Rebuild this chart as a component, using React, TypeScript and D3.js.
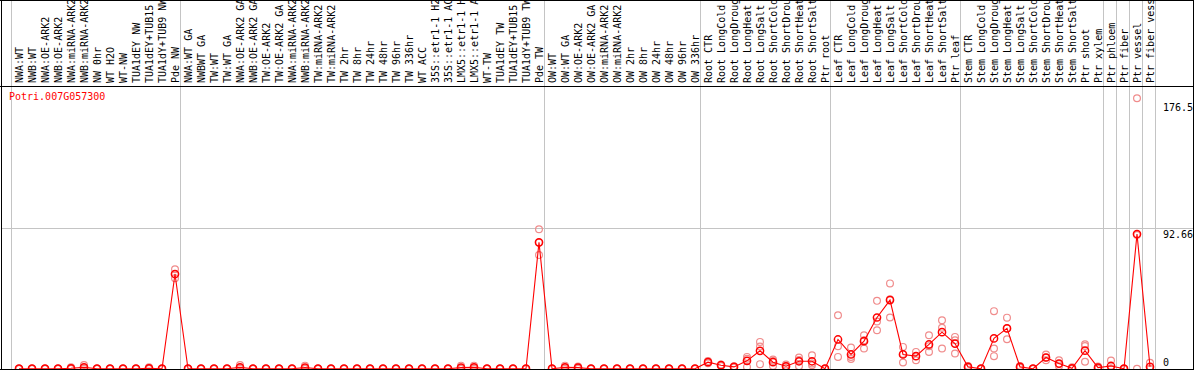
import React from 'react';
import * as d3 from 'd3';

const title = 'Potri.007G057300';

const categories = [
  'NWA:WT', 'NWB:WT', 'NWA:OE-ARK2', 'NWB:OE-ARK2', 'NWA:miRNA-ARK2', 'NWB:miRNA-ARK2',
  'NW 0hr', 'WT H2O', 'WT-NW', 'TUA1dEY NW', 'TUA1dEY+TUB15', 'TUA1dY+TUB9 NW', 'Pde NW',
  'NWA:WT GA', 'NWBWT GA', 'TW:WT', 'TW:WT GA', 'NWA:OE-ARK2 GA', 'NWB:OE-ARK2 GA',
  'TW:OE-ARK2', 'TW:OE-ARK2 GA', 'NWA:miRNA-ARK2', 'NWB:miRNA-ARK2', 'TW:miRNA-ARK2',
  'TW:miRNA-ARK2', 'TW 2hr', 'TW 8hr', 'TW 24hr', 'TW 48hr', 'TW 96hr', 'TW 336hr', 'WT ACC',
  '35S::etr1-1 H2', '35S::etr1-1 AC', 'LMX5::etr1-1 H', 'LMX5::etr1-1 A', 'WT-TW',
  'TUA1dEY TW', 'TUA1dEY+TUB15', 'TUA1dY+TUB9 TW', 'Pde TW',
  'OW:WT', 'OW:WT GA', 'OW:OE-ARK2', 'OW:OE-ARK2 GA', 'OW:miRNA-ARK2', 'OW:miRNA-ARK2',
  'OW 2hr', 'OW 8hr', 'OW 24hr', 'OW 48hr', 'OW 96hr', 'OW 336hr',
  'Root CTR', 'Root LongCold', 'Root LongDroug', 'Root LongHeat', 'Root LongSalt',
  'Root ShortCold', 'Root ShortDrou', 'Root ShortHeat', 'Root ShortSalt', 'Ptr root',
  'Leaf CTR', 'Leaf LongCold', 'Leaf LongDroug', 'Leaf LongHeat', 'Leaf LongSalt',
  'Leaf ShortCold', 'Leaf ShortDrou', 'Leaf ShortHeat', 'Leaf ShortSalt', 'Ptr leaf',
  'Stem CTR', 'Stem LongCold', 'Stem LongDroug', 'Stem LongHeat', 'Stem LongSalt',
  'Stem ShortCold', 'Stem ShortDrou', 'Stem ShortHeat', 'Stem ShortSalt', 'Ptr shoot',
  'Ptr xylem', 'Ptr phloem', 'Ptr fiber', 'Ptr vessel', 'Ptr fiber vess',
];

const meanValues = [
  0, 0, 0, 0, 0.3, 0.9, 0, 0, 0, 0, 0.3, 0, 62.5,
  0, 0, 0, 0, 0.9, 0, 0, 0, 0, 0.7, 0, 0, 0, 0, 0, 0, 0, 0, 0, 0, 0, 0.7, 0.9, 0, 0, 0, 0, 83.4,
  0, 0.9, 0.7, 0, 0, 0, 0, 0, 0, 0, 0, 0,
  4.3, 2.3, 1.2, 5.2, 11.8, 4.3, 1.6, 4.9, 4.9, 0,
  19.3, 9.4, 18.2, 33.8, 45.3, 9.4, 8.3, 16.0, 24.1, 16.6,
  1.2, 0, 20.0, 26.6, 1.2, 0, 7.4, 3.4, 0.3, 11.9, 0.7,
  1.8, 0, 88.9, 1.3,
];

const replicateValues = [
  [0, 0, 0], [0, 0, 0], [0, 0, 0], [0, 0, 0], [0.9, 0, 0], [2.4, 0.3, 0],
  [0, 0, 0], [0, 0, 0], [0, 0, 0], [0, 0, 0], [0.9, 0, 0], [0, 0, 0], [65.6, 62.3, 59.7],
  [0, 0, 0], [0, 0, 0], [0, 0, 0], [0, 0, 0], [2.4, 0.3, 0], [0, 0, 0],
  [0, 0, 0], [0, 0, 0], [0, 0, 0], [2.0, 0, 0], [0, 0, 0],
  [0, 0, 0], [0, 0, 0], [0, 0, 0], [0, 0, 0], [0, 0, 0], [0, 0, 0], [0, 0, 0], [0, 0, 0],
  [0, 0, 0], [0, 0, 0], [2.0, 0, 0], [2.0, 0.7, 0], [0, 0, 0],
  [0, 0, 0], [0, 0, 0], [0, 0, 0], [92.0, 83.2, 75.0],
  [0, 0, 0], [2.0, 0.7, 0], [1.4, 0.7, 0], [0, 0, 0], [0, 0, 0], [0, 0, 0],
  [0, 0, 0], [0, 0, 0], [0, 0, 0], [0, 0, 0], [0, 0, 0], [0, 0, 0],
  [5.0, 4.3, 3.6], [2.8, 2.3, 1.8], [1.6, 1.2, 0.8], [7.8, 6.6, 1.2], [17.7, 14.7, 3.0],
  [6.0, 5.1, 1.8], [2.8, 1.6, 0.4], [7.4, 5.7, 1.6], [8.9, 3.5, 2.3], [0, 0, 0],
  [35.2, 14.9, 7.8], [14.0, 7.8, 6.4], [22.1, 18.8, 13.3], [44.8, 31.2, 25.4], [56.3, 45.8, 33.8],
  [14.4, 9.7, 4.1], [11.1, 8.2, 5.6], [22.1, 14.9, 11.1], [32.0, 27.0, 13.3], [21.0, 18.8, 10.0],
  [1.8, 1.2, 0.6], [0, 0, 0], [38.0, 13.3, 8.3], [33.7, 26.7, 19.4], [1.8, 1.2, 0.6],
  [0, 0, 0], [9.4, 7.4, 5.6], [5.6, 3.0, 1.6], [0.9, 0, 0], [16.1, 15.0, 4.6],
  [1.4, 0.7, 0], [5.4, 0, 0], [0, 0, 0], [178.5, 88.2, 0], [3.9, 0, 0],
];

// indices of the last category in each group (a separator is drawn after each)
const groupEnds = [-1, 12, 40, 52, 62, 72, 83, 84, 85, 86, 87];

const yTickValues = [176.5, 92.66, 0];
const gridValues = [92.66];

const W = 1194;
const H = 370;
const MONO = '"DejaVu Sans Mono", "Liberation Mono", monospace';

export default function App() {
  const x = d3.scaleLinear().domain([0, categories.length - 1]).range([19, 1150]);
  const y = d3.scaleLinear().domain([0, 176.5]).range([368.7, 101.3]);

  const line = d3
    .line<number>()
    .x((_, i) => x(i))
    .y((d) => y(d));

  const red = '#ff0000';
  const pink = '#f08c8c';
  const grid = '#c4c4c4';

  return (
    <svg
      width={W}
      height={H}
      style={{ position: 'absolute', left: 0, top: 0, background: '#fff' }}
      fontFamily={MONO}
    >
      <rect x={0} y={0} width={W} height={H} fill="#fff" />
      {/* group separators */}
      {groupEnds.map((k) => {
        const sx = Math.round(x(k) + 5) + 0.5;
        return <line key={'s' + k} x1={sx} x2={sx} y1={0} y2={369} stroke={grid} strokeWidth={1} />;
      })}
      {/* horizontal grid */}
      {gridValues.map((v) => {
        const gy = Math.round(y(v)) + 0.5;
        return <line key={'g' + v} x1={1.5} x2={1193.5} y1={gy} y2={gy} stroke={grid} strokeWidth={1} />;
      })}
      {/* borders */}
      <line x1={0} x2={W} y1={0.5} y2={0.5} stroke="#000" strokeWidth={1} />
      <line x1={0} x2={W} y1={86.5} y2={86.5} stroke="#000" strokeWidth={1} />
      <line x1={0} x2={W} y1={369.5} y2={369.5} stroke="#000" strokeWidth={1} />
      <line x1={1.5} x2={1.5} y1={0} y2={H} stroke="#000" strokeWidth={1} />
      <line x1={1193.5} x2={1193.5} y1={0} y2={H} stroke="#000" strokeWidth={1} />

      {/* category labels */}
      {categories.map((c, i) => (
        <text
          key={'l' + i}
          transform={`translate(${x(i) + 3.5},83) rotate(-90)`}
          fontSize={10}
          fill="#000"
          style={{ whiteSpace: 'pre' }}
        >
          {c}
        </text>
      ))}

      {/* title */}
      <text x={9} y={100} fontSize={10} fill={red}>
        {title}
      </text>

      {/* y labels */}
      {yTickValues.map((v) => (
        <text key={'y' + v} x={1163} y={v === 0 ? y(v) - 3 : y(v) + 9.5} fontSize={10} fill="#000">
          {String(v)}
        </text>
      ))}

      <g clipPath="url(#plotclip)">
        <defs>
          <clipPath id="plotclip">
            <rect x={2} y={87} width={1191} height={282} />
          </clipPath>
        </defs>
        {/* replicates */}
        {replicateValues.map((reps, i) =>
          reps.map((r, j) => (
            <circle
              key={'r' + i + '_' + j}
              cx={x(i)}
              cy={y(r)}
              r={3.4}
              fill="none"
              stroke={pink}
              strokeWidth={1.2}
            />
          ))
        )}
        {/* mean line */}
        <path d={line(meanValues) || ''} fill="none" stroke={red} strokeWidth={1.1} />
        {/* means */}
        {meanValues.map((m, i) => (
          <circle key={'m' + i} cx={x(i)} cy={y(m)} r={3.6} fill="none" stroke={red} strokeWidth={1.5} />
        ))}
      </g>
    </svg>
  );
}
